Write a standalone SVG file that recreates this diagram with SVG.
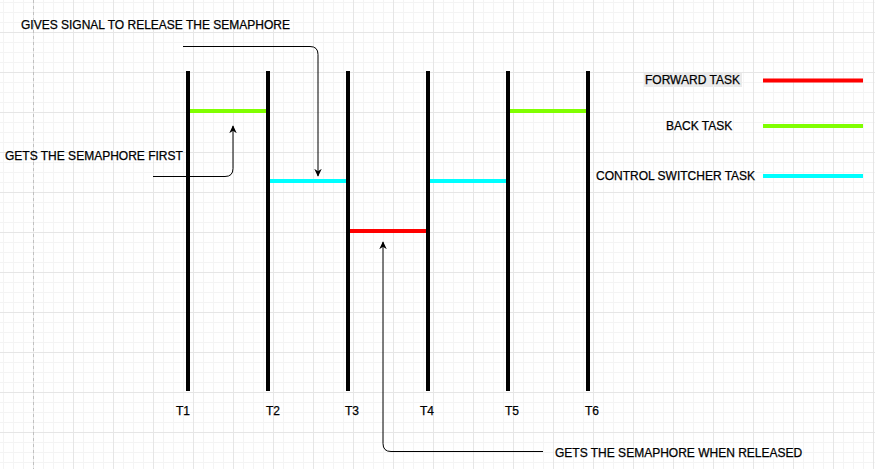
<svg xmlns="http://www.w3.org/2000/svg" width="875" height="469" viewBox="0 0 875 469">
  <defs>
    <pattern id="minor" x="3" y="2" width="10" height="10" patternUnits="userSpaceOnUse">
      <path d="M0.5 0 V10 M0 0.5 H10" fill="none" stroke="#f4f4f4" stroke-width="1"/>
    </pattern>
    <pattern id="major" x="33" y="32" width="40" height="40" patternUnits="userSpaceOnUse">
      <path d="M0.5 0 V40 M0 0.5 H40" fill="none" stroke="#e6e6e6" stroke-width="1"/>
    </pattern>
    <marker id="arrow" viewBox="0 0 10 10" refX="9" refY="5" markerWidth="8" markerHeight="7.5" markerUnits="userSpaceOnUse" orient="auto" preserveAspectRatio="none">
      <path d="M0 0 L10 5 L0 10 L3 5 Z" fill="#000"/>
    </marker>
    <style>
      .t { font-family: "Liberation Sans", Arial, sans-serif; font-size: 12px; fill: #000; stroke: #000; stroke-width: 0.25; }
      .time { stroke: #000; stroke-width: 4; }
      .task { stroke-width: 4; }
      .red { stroke: #ff0000; }
      .green { stroke: #80ff00; }
      .cyan { stroke: #00ffff; }
      .conn { fill: none; stroke: #000; stroke-width: 1; marker-end: url(#arrow); }
    </style>
  </defs>
  <rect x="0" y="0" width="875" height="469" fill="#ffffff"/>
  <rect x="0" y="0" width="875" height="469" fill="url(#minor)"/>
  <rect x="0" y="0" width="875" height="469" fill="url(#major)"/>
  <line x1="33.5" y1="0" x2="33.5" y2="469" stroke="#c0c0c0" stroke-width="1" stroke-dasharray="3 3"/>

  <g id="timelines">
    <g id="T1"><line class="time" x1="188" y1="71" x2="188" y2="391"/><text class="t" x="176" y="415">T1</text></g>
    <g id="T2"><line class="time" x1="268" y1="71" x2="268" y2="391"/><text class="t" x="266" y="415">T2</text></g>
    <g id="T3"><line class="time" x1="348" y1="71" x2="348" y2="391"/><text class="t" x="345" y="415">T3</text></g>
    <g id="T4"><line class="time" x1="428" y1="71" x2="428" y2="391"/><text class="t" x="420" y="415">T4</text></g>
    <g id="T5"><line class="time" x1="508" y1="71" x2="508" y2="391"/><text class="t" x="505" y="415">T5</text></g>
    <g id="T6"><line class="time" x1="588" y1="71" x2="588" y2="391"/><text class="t" x="585" y="415">T6</text></g>
  </g>

  <g id="tasks">
    <line id="back1" class="task green" x1="190" y1="111" x2="266" y2="111"/>
    <line id="ctrl1" class="task cyan" x1="270" y1="181" x2="346" y2="181"/>
    <line id="fwd1" class="task red" x1="350" y1="231" x2="426" y2="231"/>
    <line id="ctrl2" class="task cyan" x1="430" y1="181" x2="506" y2="181"/>
    <line id="back2" class="task green" x1="510" y1="111" x2="586" y2="111"/>
  </g>

  <g id="legend">
    <g id="leg-forward">
      <rect x="644" y="73" width="98" height="14" fill="#ebebeb"/>
      <text class="t" x="645" y="84">FORWARD TASK</text>
      <line class="task red" x1="763" y1="80.5" x2="863" y2="80.5"/>
    </g>
    <g id="leg-back">
      <text class="t" x="666" y="130">BACK TASK</text>
      <line class="task green" x1="763" y1="126" x2="863" y2="126"/>
    </g>
    <g id="leg-control">
      <text class="t" x="596" y="180">CONTROL SWITCHER TASK</text>
      <line class="task cyan" x1="763" y1="176" x2="863" y2="176"/>
    </g>
  </g>

  <g id="label-gives"><text class="t" x="21" y="29">GIVES SIGNAL TO RELEASE THE SEMAPHORE</text></g>
  <g id="label-first"><text class="t" x="5" y="160">GETS THE SEMAPHORE FIRST</text></g>
  <g id="label-released"><text class="t" x="555" y="457">GETS THE SEMAPHORE WHEN RELEASED</text></g>

  <g id="connectors">
    <path class="conn" d="M183 46.5 H310 Q318 46.5 318 54.5 V176"/>
    <path class="conn" d="M153 176.5 H225 Q233 176.5 233 168.5 V126"/>
    <path class="conn" d="M543 451.5 H391 Q383 451.5 383 443.5 V242"/>
  </g>
</svg>
